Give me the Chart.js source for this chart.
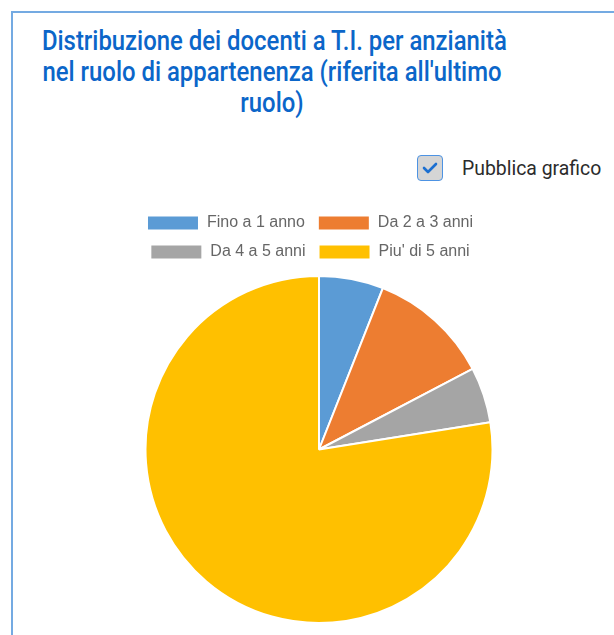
<!DOCTYPE html>
<html>
<head>
<meta charset="utf-8">
<script src="https://cdn.jsdelivr.net/npm/chart.js@4"></script>
<style>
  html, body { margin: 0; padding: 0; background: #fff; width: 614px; height: 635px; overflow: hidden; }
  #frame { position: absolute; left: 11px; top: 11px; width: 620px; height: 640px;
           border-left: 2px solid #74aae2; border-top: 2px solid #74aae2; }
  #title { position: absolute; left: 12px; top: 26px; width: 520px; text-align: center; white-space: nowrap;
           font-family: "Roboto", sans-serif; font-weight: 500; font-size: 27px; line-height: 31px;
           color: #0b66c9; transform: scaleX(0.885); transform-origin: 260px 0; }
  #pub { position: absolute; left: 417px; top: 154px; height: 27px; display: flex; align-items: center; }
  #box { width: 24px; height: 24px; border: 1.5px solid #4d93e3; border-radius: 4px; background: #d5d5d5;
         position: relative; }
  #box svg { position: absolute; left: 4px; top: 5px; }
  #pub span { margin-left: 19px; font-family: "Roboto", sans-serif; font-size: 20px; color: #2b2b2b;
              display: inline-block; transform: scaleX(0.97); transform-origin: 0 0; }
  #wrap { position: absolute; left: 89px; top: 202px; width: 460px; height: 422px; }
</style>
</head>
<body>
<div id="frame"></div>
<div id="title">Distribuzione dei docenti a T.I. per anzianità<br>nel ruolo di appartenenza (riferita all'ultimo<br>ruolo)</div>
<div id="pub"><div id="box"><svg width="16" height="14" viewBox="0 0 16 14"><path d="M2 7 L6 11 L14 3" fill="none" stroke="#1b6fd1" stroke-width="2.6" stroke-linecap="round" stroke-linejoin="round"/></svg></div><span>Pubblica grafico</span></div>
<div id="wrap"><canvas id="canvas"></canvas></div>
<script>
const labels = ['Fino a 1 anno', 'Da 2 a 3 anni', 'Da 4 a 5 anni', "Piu' di 5 anni"];
const values = [6.0, 11.3, 5.2, 77.5];
const colors = ['#5b9bd5', '#ed7d31', '#a5a5a5', '#ffc000'];

// a bit more space under the legend, and legend sits slightly left of the pie
const legendTweak = {
    id: 'legendTweak',
    beforeInit(chart) {
        const fit = chart.legend.fit;
        chart.legend.fit = function () {
            fit.bind(chart.legend)();
            this.height += 5;
        };
    },
    afterLayout(chart) {
        chart.legend.left -= 9;
        chart.legend.right -= 9;
    }
};

new Chart(document.getElementById('canvas').getContext('2d'), {
    type: 'pie',
    data: {
        labels: labels,
        datasets: [{
            data: values,
            backgroundColor: colors,
            borderColor: '#ffffff',
            borderWidth: 2
        }]
    },
    options: {
        responsive: true,
        maintainAspectRatio: false,
        animation: false,
        layout: {padding: 0},
        plugins: {
            legend: {
                position: 'top',
                labels: {
                    boxWidth: 52,
                    boxHeight: 15,
                    padding: 13,
                    color: '#666',
                    font: {family: '"Liberation Sans", Arial, sans-serif', size: 16}
                }
            },
            tooltip: {enabled: false}
        }
    },
    plugins: [legendTweak]
});
</script>
</body>
</html>
